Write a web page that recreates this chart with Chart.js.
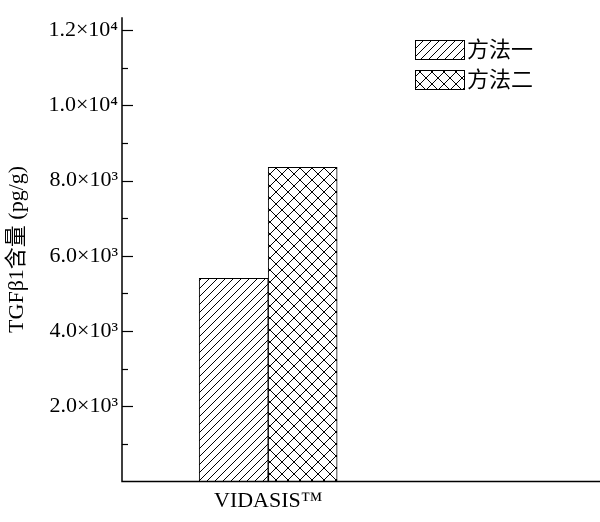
<!DOCTYPE html><html><head><meta charset="utf-8">
<script src="https://cdn.jsdelivr.net/npm/chart.js@4"></script>
<style>body{margin:0;background:#fff}#w{width:600px;height:522px}</style></head><body><div id="w"><canvas id="c"></canvas></div>
<script>
const categories=['VIDASIS™'];
const seriesNames=['方法一','方法二'];
const method1=[5400];
const method2=[8350];
const yTickLabels={2000:'2.0×10³',4000:'4.0×10³',6000:'6.0×10³',8000:'8.0×10³',10000:'1.0×10⁴',12000:'1.2×10⁴'};
const F='"Liberation Serif", "Noto Sans CJK SC", serif';
function pat(kind){const s=kind==1?8:12;const c=document.createElement('canvas');c.width=s;c.height=s;const g=c.getContext('2d');g.fillStyle='#fff';g.fillRect(0,0,s,s);g.strokeStyle='#000';g.lineWidth=1;
 g.beginPath();g.moveTo(-1,s+1);g.lineTo(s+1,-1);g.moveTo(-s/2,s/2);g.lineTo(s/2,-s/2);g.moveTo(s/2,s*1.5);g.lineTo(s*1.5,s/2);
 if(kind==2){g.moveTo(-1,-1);g.lineTo(s+1,s+1);g.moveTo(-s/2,s/2);g.lineTo(s/2,s*1.5);g.moveTo(s/2,-s/2);g.lineTo(s*1.5,s/2);}
 g.stroke();return g.createPattern(c,'repeat');}
const p1=pat(1),p2=pat(2);
const deco={id:'deco',afterDraw(ch){const g=ch.ctx,y=ch.scales.y,x=ch.scales.x,a=ch.chartArea;g.save();g.strokeStyle='#000';g.lineWidth=1.5;
 g.beginPath();g.moveTo(a.left,a.top);g.lineTo(a.left,a.bottom);g.lineTo(a.right,a.bottom);g.stroke();
 g.lineWidth=1.2;for(let v=1000;v<=12000;v+=1000){const py=Math.round(y.getPixelForValue(v))+.5;g.beginPath();g.moveTo(a.left,py);g.lineTo(a.left+(v%2000?6:11),py);g.stroke();}
 const px=Math.round(x.getPixelForValue(1))+.5;g.beginPath();g.moveTo(px,a.bottom);g.lineTo(px,a.bottom-10);g.stroke();
 [[p1,seriesNames[0]],[p2,seriesNames[1]]].forEach((it,i)=>{const yy=40+i*30;g.fillStyle=it[0];g.fillRect(415,yy,50,20);g.lineWidth=1;g.strokeRect(415.5,yy+.5,49,19);g.fillStyle='#000';g.font='22px '+F;g.textBaseline='middle';g.fillText(it[1],467,yy+11);});
 g.restore();}};
new Chart(document.getElementById('c'),{type:'bar',
data:{datasets:[{label:seriesNames[0],data:categories.map((c,i)=>({x:i+1,y:method1[i]})),backgroundColor:p1,borderColor:'#000',borderWidth:1},
{label:seriesNames[1],data:categories.map((c,i)=>({x:i+1,y:method2[i]})),backgroundColor:p2,borderColor:'#000',borderWidth:1}]},
options:{responsive:true,maintainAspectRatio:false,animation:false,layout:{padding:{top:16,right:0,bottom:2,left:0}},
plugins:{legend:{display:false},tooltip:{enabled:false}},
datasets:{bar:{barThickness:69,grouped:true}},
scales:{x:{type:'linear',offset:false,min:0,max:3.27,grid:{display:false,drawTicks:false,offset:false},border:{display:false},
 afterBuildTicks(s){s.ticks=[{value:1}];},ticks:{color:'#000',padding:6,font:{family:F,size:22},callback:v=>categories[v-1]||''}},
y:{min:0,max:12340,grid:{display:false,drawTicks:false},border:{display:false},afterFit(s){s.width=122;},
 afterBuildTicks(s){s.ticks=Object.keys(yTickLabels).map(v=>({value:+v}));},
 ticks:{color:'#000',padding:4,font:{family:F,size:22},callback:v=>yTickLabels[v]||''},
 title:{display:true,text:'TGFβ1含量 (pg/g)',color:'#000',font:{family:F,size:22},padding:{bottom:2}}}}},
plugins:[deco]});
</script></body></html>
